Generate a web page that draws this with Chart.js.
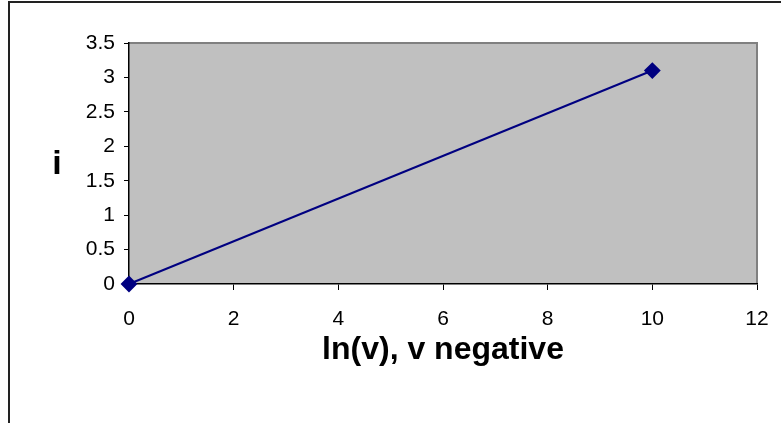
<!DOCTYPE html>
<html>
<head>
<meta charset="utf-8">
<script src="https://cdn.jsdelivr.net/npm/chart.js@4"></script>
<style>
  html, body { margin: 0; padding: 0; background: #fff; }
  #wrap { position: relative; width: 781px; height: 423px; }
  #frame { position: absolute; left: 8px; top: 1px; right: 0; bottom: -4px;
           border-top: 2px solid #222; border-left: 2px solid #222; pointer-events: none; }
  canvas { position: absolute; left: 0; top: 0; }
</style>
</head>
<body>
<div id="wrap">
  <canvas id="chart" width="781" height="423"></canvas>
  <div id="frame"></div>
</div>
<script>
// data
const xValues = [0, 10];
const iValues = [0, 3.1];
const xTitle = 'ln(v), v negative';
const yTitle = 'i';

const font = 'Liberation Sans, Arial, sans-serif';
const plain = v => String(v);

// gray plot area with Excel-like border, plus the upright "i" label
const plotArea = {
  id: 'plotArea',
  beforeDraw(chart) {
    const { ctx, chartArea: a } = chart;
    ctx.save();
    ctx.fillStyle = '#C0C0C0';
    ctx.fillRect(a.left, a.top, a.right - a.left, a.bottom - a.top);
    ctx.strokeStyle = '#808080';
    ctx.lineWidth = 2;
    ctx.beginPath();
    ctx.moveTo(a.left, a.top);
    ctx.lineTo(a.right, a.top);
    ctx.lineTo(a.right, a.bottom);
    ctx.stroke();
    ctx.restore();
  },
  afterDraw(chart) {
    const { ctx, chartArea: a } = chart;
    ctx.save();
    ctx.fillStyle = '#000';
    ctx.font = 'bold 34px ' + font;
    ctx.textAlign = 'center';
    ctx.textBaseline = 'middle';
    ctx.fillText(yTitle, 57, (a.top + a.bottom) / 2 + 1);
    ctx.restore();
  }
};

new Chart(document.getElementById('chart'), {
  type: 'scatter',
  data: {
    datasets: [{
      data: xValues.map((x, i) => ({ x, y: iValues[i] })),
      showLine: true,
      borderColor: '#000080',
      borderWidth: 2,
      pointStyle: 'rectRot',
      pointRadius: 7,
      pointHoverRadius: 7,
      pointBackgroundColor: '#000080',
      pointBorderColor: '#000080',
      clip: false
    }]
  },
  options: {
    responsive: false,
    animation: false,
    layout: { padding: { left: 0, top: 43, right: 24, bottom: 0 } },
    plugins: { legend: { display: false }, tooltip: { enabled: false } },
    scales: {
      x: {
        type: 'linear',
        min: 0, max: 12,
        ticks: { stepSize: 2, color: '#000', padding: 17, callback: plain,
                 font: { family: font, size: 21 } },
        grid: { display: true, drawOnChartArea: false, tickLength: 6, color: '#000' },
        border: { color: '#000', width: 1.5 },
        title: { display: true, text: xTitle, color: '#000',
                 font: { family: font, size: 32, weight: 'bold' }, padding: { top: 0, bottom: 54 } },
        afterFit(s) { s.height = 139; s.paddingRight = 0; s.paddingLeft = 0; }
      },
      y: {
        min: 0, max: 3.5,
        ticks: { stepSize: 0.5, color: '#000', padding: 9, callback: plain,
                 font: { family: font, size: 21 } },
        grid: { display: true, drawOnChartArea: false, tickLength: 5, color: '#000' },
        border: { color: '#000', width: 1.5 },
        afterFit(s) { s.width = 129; s.paddingTop = 0; s.paddingBottom = 0; }
      }
    }
  },
  plugins: [plotArea]
});
</script>
</body>
</html>
